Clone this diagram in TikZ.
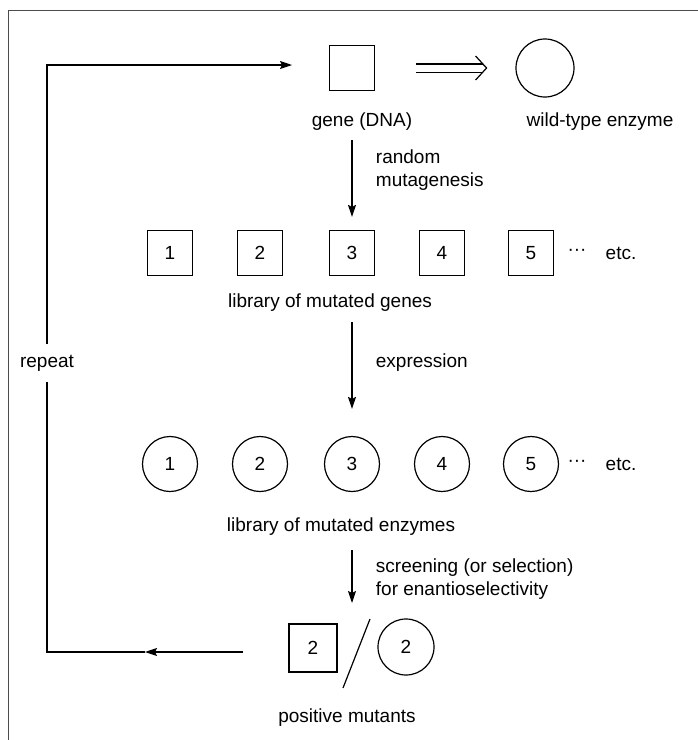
\documentclass[tikz,border=0pt]{standalone}
\usepackage{fontspec}
\setmainfont{Liberation Sans}
\usepackage{tikz}
\usetikzlibrary{positioning, calc, arrows.meta}

\begin{document}
\begin{tikzpicture}[x=1pt, y=-1pt, line width=1.2pt,
  every node/.style={font=\fontsize{19}{23}\selectfont},
  gene/.style={draw, minimum width=45pt, minimum height=45pt, inner sep=0pt},
  enzyme/.style={draw, circle, minimum size=55pt, inner sep=0pt},
  note/.style={anchor=west, align=left},
  arr/.style={-{Stealth[length=12pt, width=8pt, inset=2pt]}}]

\useasboundingbox (0,0) rectangle (698,740);
\draw [line width=0.8pt, black!70] (8,740) -- (8,10) -- (698,10);

%//top: gene and wild-type enzyme
\node [gene] (dna) at (352,68) {};
\node [enzyme, minimum size=58pt] (wt) at (545,68) {};
\node (dnatxt) at (362,122) {gene (DNA)};
\node (wttxt) at (600,122) {wild-type enzyme};
\draw [double, double distance=7pt, shorten <=41pt, shorten >=32pt] (dna) -- (wt);
\draw [-{Straight Barb[length=11pt, width=24pt]}, shorten <=111pt, shorten >=28pt] (dna) -- (wt);

%//library of genes
\foreach \x/\val in {170/1, 260/2, 352/3, 442/4, 531/5}
\node [gene] (g\val) at (\x,253) {\val};
\node (gdots) at (577,252) {···};
\node (getc) at (621,253) {etc.};
\node (glib) at (330,303) {library of mutated genes};

\coordinate (a1) at (352,140);
\draw [arr, shorten >=13pt] (a1) -- (g3);
\node [note] (a1txt) at (372,170) {random\\mutagenesis};

%//library of enzymes
\foreach \x/\val in {170/1, 260/2, 352/3, 442/4, 531/5}
\node [enzyme] (e\val) at (\x,464) {\val};
\node (edots) at (577,463) {···};
\node (eetc) at (621,464) {etc.};
\node (elib) at (341,527) {library of mutated enzymes};

\coordinate (a2) at (352,322);
\draw [arr, shorten >=27pt] (a2) -- (e3);
\node [note] (a2txt) at (372,363) {expression};

\coordinate (a3) at (352,550);
\coordinate (a3end) at (352,603);
\draw [arr] (a3) -- (a3end);
\node [note] (a3txt) at (372,579) {screening (or selection)\\for enantioselectivity};

%//positive mutants
\node [gene, minimum width=48pt, minimum height=48pt] (pg) at (313,648) {2};
\node [enzyme, minimum size=56pt] (pe) at (406,647) {2};
\coordinate (s1) at (370,619);
\coordinate (s2) at (343,688);
\draw (s1) -- (s2);
\node (ptxt) at (347,718) {positive mutants};

%//repeat loop
\coordinate (l1) at (243,652);
\coordinate (l2) at (145,652);
\coordinate (l3) at (47,652);
\coordinate (l4) at (47,65);
\coordinate (l5) at (292,65);
\node [inner sep=10pt] (rep) at (47,363) {repeat};
\draw [arr] (l1) -- (l2);
\draw (l2) -- (l3) -- (l3 |- rep.south);
\draw [arr] (l4 |- rep.north) -- (l4) -- (l5);
\end{tikzpicture}
\end{document}
